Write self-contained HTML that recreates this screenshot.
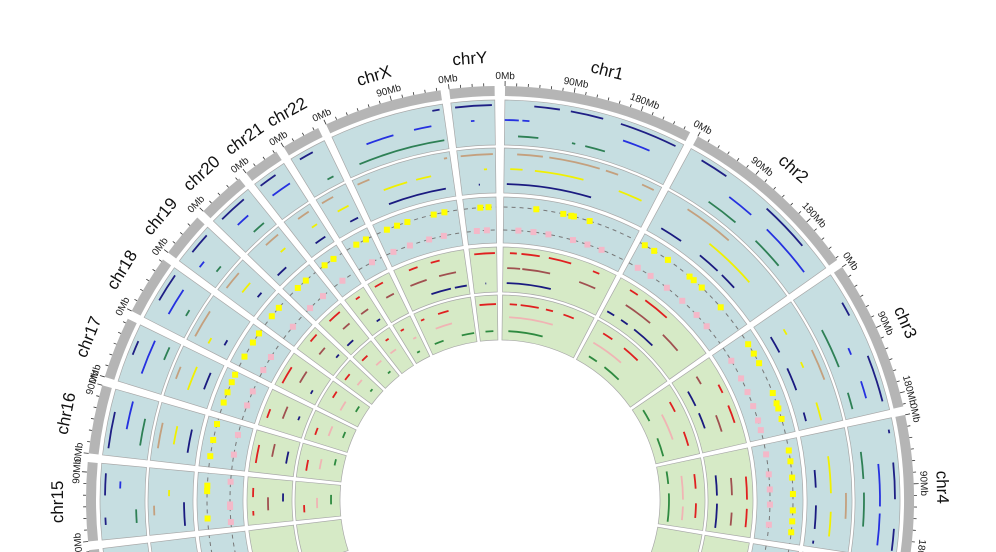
<!DOCTYPE html>
<html><head><meta charset="utf-8"><style>
html,body{margin:0;padding:0;background:#fff;width:996px;height:552px;overflow:hidden;}
svg{display:block;font-family:"Liberation Sans",sans-serif;overflow:hidden;}
</style></head><body>
<svg id="chart" width="996" height="552" viewBox="0 0 996 552" xmlns="http://www.w3.org/2000/svg"></svg>
<script>
// ---- data ----
const chromNames = ["chr1","chr2","chr3","chr4","chr5","chr6","chr7","chr8","chr9","chr10","chr11","chr12","chr13","chr14","chr15","chr16","chr17","chr18","chr19","chr20","chr21","chr22","chrX","chrY"];
const chromLengths = [249,243,198,191,181,171,159,146,141,136,135,134,115,107,103,90,81,78,59,63,48,51,155,59];
const tickLabels = ["0Mb","90Mb","180Mb"];
const tickValues = [0,90,180];

const t1a = [["chr1",40,75],["chr1",90,135],["chr1",160,240],["chr2",20,60],["chr2",130,200],["chr3",40,60],["chr3",120,185],["chr4",15,20],["chr4",60,110],["chr4",150,180],["chrX",140,150],["chrY",5,55],["chr22",10,30],["chr21",5,30],["chr20",10,50],["chr19",20,50],["chr18",30,70],["chr17",40,60],["chr16",10,60],["chr15",20,30],["chr15",60,90],["chr14",30,60],["chr5",20,60]];
const t1b = [["chr1",0,20],["chr1",25,35],["chr1",170,210],["chr2",80,120],["chr2",150,230],["chr3",100,110],["chr3",150,175],["chr4",60,120],["chr4",130,175],["chrX",40,80],["chrX",110,135],["chrY",25,30],["chr21",10,40],["chr20",20,40],["chr19",10,20],["chr18",20,60],["chr17",20,70],["chr16",40,80],["chr15",70,80],["chr5",70,120]];
const t1c = [["chr1",20,50],["chr1",100,105],["chr1",120,150],["chr2",60,110],["chr2",150,200],["chr3",60,120],["chr3",160,185],["chr4",40,80],["chr4",100,150],["chrX",20,150],["chr22",30,40],["chr20",30,50],["chr19",20,30],["chr18",30,40],["chr17",50,70],["chr16",20,60],["chr15",20,40],["chr14",50,80]];
const t2a = [["chr1",20,60],["chr1",70,150],["chr1",160,180],["chr1",220,240],["chr2",40,120],["chr3",80,130],["chr4",100,140],["chrX",5,25],["chrX",145,150],["chrY",5,55],["chr22",5,25],["chr21",20,40],["chr20",30,55],["chr19",10,40],["chr18",10,55],["chr17",30,50],["chr16",20,60],["chr15",30,45]];
const t2b = [["chr1",10,30],["chr1",50,130],["chr1",190,230],["chr2",100,190],["chr3",30,40],["chr3",90,100],["chr3",160,190],["chr4",40,100],["chr4",130,170],["chrX",40,80],["chrX",95,120],["chrY",40,45],["chr22",20,40],["chr21",30,40],["chr20",40,50],["chr19",20,40],["chr18",10,20],["chr17",20,60],["chr16",30,60],["chr15",60,70]];
const t2c = [["chr1",5,150],["chr2",20,60],["chr2",100,140],["chr2",150,180],["chr3",30,60],["chr3",90,130],["chr3",170,185],["chr4",60,90],["chr4",120,160],["chr4",180,185],["chrX",40,140],["chrY",30,32],["chr22",30,45],["chr21",20,40],["chr20",10,30],["chr19",30,40],["chr18",20,30],["chr17",30,60],["chr16",20,60],["chr15",10,50]];
const dotsYellow = [["chr1",60],["chr1",110],["chr1",125],["chr1",130],["chr1",160],["chr2",10],["chr2",30],["chr2",60],["chr2",110],["chr2",120],["chr2",140],["chr2",190],["chr3",20],["chr3",40],["chr3",60],["chr3",120],["chr3",140],["chr3",150],["chr3",170],["chr4",20],["chr4",40],["chr4",70],["chr4",100],["chr4",130],["chr4",150],["chr4",170],["chrX",20],["chrX",40],["chrX",60],["chrX",110],["chrX",130],["chrY",30],["chrY",45],["chr22",20],["chr22",40],["chr21",10],["chr21",30],["chr20",20],["chr20",40],["chr19",20],["chr19",40],["chr18",20],["chr18",50],["chr18",70],["chr17",20],["chr17",40],["chr17",60],["chr17",75],["chr16",20],["chr16",50],["chr16",80],["chr15",20],["chr15",70],["chr15",80]];
const dotsPink = [["chr1",30],["chr1",60],["chr1",90],["chr1",140],["chr1",170],["chr1",200],["chr2",20],["chr2",50],["chr2",90],["chr2",130],["chr2",170],["chr2",200],["chr3",30],["chr3",70],["chr3",100],["chr3",130],["chr3",160],["chr3",180],["chr4",20],["chr4",60],["chr4",90],["chr4",120],["chr4",160],["chrX",15],["chrX",50],["chrX",90],["chrX",120],["chrY",20],["chrY",40],["chr22",30],["chr21",20],["chr20",10],["chr20",45],["chr19",30],["chr18",15],["chr18",45],["chr17",30],["chr17",60],["chr16",30],["chr16",70],["chr15",10],["chr15",40],["chr15",45],["chr15",90]];
const t4a = [["chr1",15,30],["chr1",40,80],["chr1",100,150],["chr1",200,215],["chr2",30,50],["chr2",70,130],["chr3",60,80],["chr3",110,150],["chr4",60,110],["chr4",130,170],["chrX",30,50],["chrX",80,100],["chrY",10,55],["chr22",10,30],["chr21",20,30],["chr20",20,50],["chr19",30,50],["chr18",10,50],["chr17",20,40],["chr16",20,60],["chr15",20,30],["chr15",60,80]];
const t4b = [["chr1",10,40],["chr1",45,110],["chr1",180,220],["chr2",40,110],["chr2",150,200],["chr3",20,40],["chr3",120,160],["chr4",60,100],["chr4",140,170],["chrX",20,60],["chrX",90,130],["chr22",20,40],["chr21",10,30],["chr20",30,50],["chr19",20,40],["chr18",30,60],["chr17",30,60],["chr16",40,70],["chr15",30,60]];
const t4c = [["chr1",10,120],["chr2",10,30],["chr2",50,70],["chr2",90,150],["chr3",40,80],["chr3",100,140],["chr4",50,100],["chr4",120,180],["chrX",60,110],["chrX",120,150],["chrY",30,32],["chr21",30,40],["chr20",10,30],["chr19",40,50],["chr18",20,30],["chr17",40,50],["chr16",30,60],["chr15",50,70]];
const t5a = [["chr1",20,40],["chr1",50,100],["chr1",120,140],["chr1",170,200],["chr2",30,60],["chr2",100,150],["chr3",40,70],["chr3",130,170],["chr4",40,80],["chr4",120,160],["chrX",10,20],["chrX",60,90],["chrY",10,55],["chr22",10,20],["chr21",20,30],["chr20",10,30],["chr19",10,30],["chr18",40,60],["chr17",20,40],["chr16",20,50],["chr15",20,40]];
const t5b = [["chr1",20,150],["chr2",20,120],["chr3",60,140],["chr4",40,110],["chr4",130,170],["chrX",40,90],["chr22",30,40],["chr21",10,30],["chr20",30,50],["chr19",20,40],["chr18",20,50],["chr17",30,60],["chr16",30,60],["chr15",30,60]];
const t5c = [["chr1",20,130],["chr2",30,60],["chr2",90,150],["chr3",20,60],["chr3",120,180],["chr4",20,60],["chr4",90,180],["chrX",20,50],["chrX",110,150],["chrY",20,45],["chr22",20,30],["chr20",40,50],["chr19",30,40],["chr18",40,60],["chr17",40,60],["chr16",50,70],["chr15",40,70]];

// ---- geometry ----
const cx = 500, cy = 500;
const gapDeg = 1.2, degPerMb = 0.107;
const startAngle = {};
(function(){
  let a = 0.7;
  chromNames.forEach((c,i)=>{ startAngle[c] = a; a += chromLengths[i]*degPerMb + gapDeg; });
})();
function ang(c,pos){ let a = startAngle[c] + pos*degPerMb; if (a > 180) a -= 360; return a; }
function pt(r,a){ const t=a*Math.PI/180; return [cx + r*Math.sin(t), cy - r*Math.cos(t)]; }
function arcD(r,a0,a1){ const p0=pt(r,a0), p1=pt(r,a1); const large = Math.abs(a1-a0)>180?1:0; return `M${p0[0].toFixed(2)},${p0[1].toFixed(2)} A${r},${r} 0 ${large} 1 ${p1[0].toFixed(2)},${p1[1].toFixed(2)}`; }
function sectorD(r0,r1,a0,a1){ const p0=pt(r1,a0),p1=pt(r1,a1),p2=pt(r0,a1),p3=pt(r0,a0); const l=Math.abs(a1-a0)>180?1:0;
  return `M${p0[0]},${p0[1]} A${r1},${r1} 0 ${l} 1 ${p1[0]},${p1[1]} L${p2[0]},${p2[1]} A${r0},${r0} 0 ${l} 0 ${p3[0]},${p3[1]} Z`; }
const NS = "http://www.w3.org/2000/svg";
const svg = document.getElementById("chart");
function mk(tag, attrs, parent){ const e=document.createElementNS(NS,tag); for(const k in attrs) e.setAttribute(k,attrs[k]); (parent||svg).appendChild(e); return e; }

const tracks = [
  {r0:355,r1:400,bg:"#c6dee1"},{r0:307,r1:352,bg:"#c6dee1"},{r0:257,r1:303,bg:"#c6dee1"},
  {r0:208,r1:253,bg:"#d6eac6"},{r0:160,r1:205,bg:"#d6eac6"}];

chromNames.forEach((c,i)=>{
  const a0 = ang(c,0), a1 = a0 + chromLengths[i]*degPerMb;
  const g = mk("g",{});
  
  
  const ideo = mk("path",{d:sectorD(404,414,a0,a1),fill:"#b5b5b5"},g);
  
  
  tracks.forEach((t,ti)=>{
    const p = mk("path",{d:sectorD(t.r0,t.r1,a0,a1),fill:t.bg,stroke:"#a8a8a8","stroke-width":0.7},g);
    
    
  });
  [293,270].forEach(r=>{ mk("path",{d:arcD(r,a0,a1),fill:"none",stroke:"#777","stroke-width":1,"stroke-dasharray":"4,4"},g); });
  for(let m=0; m<=chromLengths[i]; m+=15){
    const a = ang(c,m); const major = m%90===0;
    const p0 = pt(414,a), p1 = pt(major?419:417,a);
    mk("line",{x1:p0[0],y1:p0[1],x2:p1[0],y2:p1[1],stroke:"#333","stroke-width":0.8},g);
  }
  tickValues.forEach((v,k)=>{
    if (v > chromLengths[i]) return;
    const a = ang(c,v); const p = pt(421,a);
    const tx = mk("text",{x:p[0],y:p[1],"font-size":10,fill:"#222","text-anchor":"middle",transform:`rotate(${a} ${p[0]} ${p[1]})`},g);
    tx.textContent = tickLabels[k];
    
    
  });
  const am = ang(c, chromLengths[i]/2); const pn = pt(437,am);
  const nm = mk("text",{x:pn[0],y:pn[1],"font-size":17,fill:"#111","text-anchor":"middle",transform:`rotate(${am} ${pn[0]} ${pn[1]})`},g);
  nm.textContent = c;
  
  
});

const rows = [
  [t1a,395,"#1f1f85"],[t1b,380,"#2531e0"],[t1c,364,"#2e8055"],
  [t2a,346,"#c4a07e"],[t2b,331,"#f0f000"],[t2c,316,"#1a1a80"],
  [t4a,247,"#e02020"],[t4b,232,"#a05050"],[t4c,217,"#1a1a80"],
  [t5a,196,"#e02020"],[t5b,183,"#f0b4b4"],[t5c,169,"#2e8a40"]];
rows.forEach(([data,r,col],ri)=>{
  data.forEach(s=>{
    const p = mk("path",{d:arcD(r,ang(s[0],s[1]),ang(s[0],s[2])),fill:"none",stroke:col,"stroke-width":1.8});
    
    
  });
});
function drawDots(data,r,col,name){
  data.forEach(d=>{
    const p = pt(r, ang(d[0],d[1]));
    const e = mk("rect",{x:p[0]-3,y:p[1]-3,width:6,height:6,fill:col});
    
    
  });
}
drawDots(dotsYellow,293,"#ffff00","yellow-point");
drawDots(dotsPink,270,"#f4b8c8","pink-point");
</script>
</body></html>
